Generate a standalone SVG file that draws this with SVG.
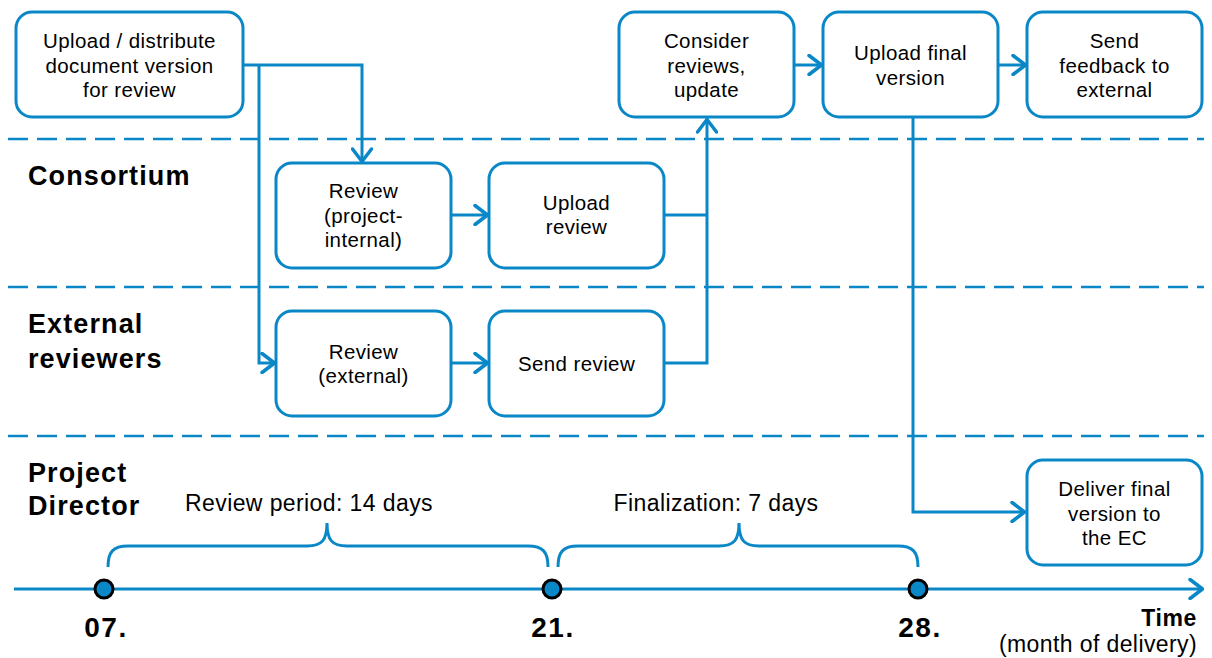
<svg xmlns="http://www.w3.org/2000/svg" width="1212" height="658" viewBox="0 0 1212 658">
  <defs>
    <marker id="arr" viewBox="0 0 16 22" refX="15" refY="11" markerWidth="16" markerHeight="22" markerUnits="userSpaceOnUse" orient="auto">
      <path d="M2,1.5 L14.5,11 L2,20.5" fill="none" stroke="#0a87c6" stroke-width="3.5" stroke-linecap="round" stroke-linejoin="round"/>
    </marker>
  </defs>
  <style>
    .box { fill: #ffffff; stroke: #0a87c6; stroke-width: 3; }
    .lane { stroke: #0a87c6; stroke-width: 2.5; stroke-dasharray: 20 9; fill: none; }
    .conn { fill: none; stroke: #0a87c6; stroke-width: 3; }
    .t { font-family: "Liberation Sans", Arial, sans-serif; font-size: 20.5px; letter-spacing: 0.4px; fill: #000; text-anchor: middle; }
    .lbl { font-family: "Liberation Sans", Arial, sans-serif; font-size: 27px; letter-spacing: 1.1px; font-weight: bold; fill: #000; }
    .per { font-family: "Liberation Sans", Arial, sans-serif; font-size: 23px; letter-spacing: 0.4px; fill: #000; text-anchor: middle; }
    .date { font-family: "Liberation Sans", Arial, sans-serif; font-size: 28px; letter-spacing: 1.5px; font-weight: bold; fill: #000; text-anchor: middle; }
    .dot { fill: #0a87c6; stroke: #000; stroke-width: 3; }
  </style>
  <rect width="1212" height="658" fill="#ffffff"/>

  <g id="lanes">
    <line class="lane" x1="8" y1="139" x2="1204" y2="139"/>
    <line class="lane" x1="8" y1="287" x2="1204" y2="287"/>
    <line class="lane" x1="8" y1="436" x2="1204" y2="436"/>
  </g>

  <g id="lane-labels">
    <text class="lbl" x="28" y="185">Consortium</text>
    <text class="lbl" x="28" y="333">External</text>
    <text class="lbl" x="28" y="368">reviewers</text>
    <text class="lbl" x="28" y="482">Project</text>
    <text class="lbl" x="28" y="515">Director</text>
  </g>

  <g id="connectors">
    <path class="conn" d="M243,65 H362 V162" marker-end="url(#arr)"/>
    <path class="conn" d="M259,65 V363 H275" marker-end="url(#arr)"/>
    <path class="conn" d="M451,215 H488" marker-end="url(#arr)"/>
    <path class="conn" d="M451,363 H488" marker-end="url(#arr)"/>
    <path class="conn" d="M665,215 H707"/>
    <path class="conn" d="M664,363 H707 V119" marker-end="url(#arr)"/>
    <path class="conn" d="M794,65 H822" marker-end="url(#arr)"/>
    <path class="conn" d="M998,65 H1026" marker-end="url(#arr)"/>
    <path class="conn" d="M913,117 V512 H1025" marker-end="url(#arr)"/>
  </g>

  <g id="n-upload-distribute">
    <rect class="box" x="16" y="12" width="227" height="105" rx="16"/>
    <text class="t" x="129.5" y="48">Upload / distribute</text>
    <text class="t" x="129.5" y="73">document version</text>
    <text class="t" x="129.5" y="97">for review</text>
  </g>
  <g id="n-consider">
    <rect class="box" x="619" y="12" width="175" height="105" rx="16"/>
    <text class="t" x="706.5" y="48">Consider</text>
    <text class="t" x="706.5" y="73">reviews,</text>
    <text class="t" x="706.5" y="97">update</text>
  </g>
  <g id="n-upload-final">
    <rect class="box" x="823" y="12" width="175" height="105" rx="16"/>
    <text class="t" x="910.5" y="60">Upload final</text>
    <text class="t" x="910.5" y="85">version</text>
  </g>
  <g id="n-send-feedback">
    <rect class="box" x="1027" y="12" width="175" height="105" rx="16"/>
    <text class="t" x="1114.5" y="48">Send</text>
    <text class="t" x="1114.5" y="73">feedback to</text>
    <text class="t" x="1114.5" y="97">external</text>
  </g>
  <g id="n-review-internal">
    <rect class="box" x="276" y="163" width="175" height="105" rx="16"/>
    <text class="t" x="363.5" y="198">Review</text>
    <text class="t" x="363.5" y="223">(project-</text>
    <text class="t" x="363.5" y="247">internal)</text>
  </g>
  <g id="n-upload-review">
    <rect class="box" x="489" y="163" width="175" height="105" rx="16"/>
    <text class="t" x="576.5" y="210">Upload</text>
    <text class="t" x="576.5" y="234">review</text>
  </g>
  <g id="n-review-external">
    <rect class="box" x="276" y="311" width="175" height="105" rx="16"/>
    <text class="t" x="363.5" y="359">Review</text>
    <text class="t" x="363.5" y="383">(external)</text>
  </g>
  <g id="n-send-review">
    <rect class="box" x="489" y="311" width="175" height="105" rx="16"/>
    <text class="t" x="576.5" y="371">Send review</text>
  </g>
  <g id="n-deliver">
    <rect class="box" x="1027" y="460" width="175" height="105" rx="16"/>
    <text class="t" x="1114.5" y="496">Deliver final</text>
    <text class="t" x="1114.5" y="521">version to</text>
    <text class="t" x="1114.5" y="545">the EC</text>
  </g>

  <g id="timeline">
    <path class="conn" d="M14,589 H1203" marker-end="url(#arr)"/>
    <path class="conn" d="M108,567 C108,552 113,546 128,546 H307 C322,546 327,540 327,523 C327,540 332,546 347,546 H528 C543,546 548,552 548,567"/>
    <path class="conn" d="M558,567 C558,552 563,546 578,546 H719 C734,546 739,540 739,523 C739,540 744,546 759,546 H898 C913,546 918,552 918,567"/>
    <circle class="dot" cx="104" cy="589" r="9"/>
    <circle class="dot" cx="552" cy="589" r="9"/>
    <circle class="dot" cx="918" cy="589" r="9"/>
    <text class="per" x="309" y="511">Review period: 14 days</text>
    <text class="per" x="716" y="511">Finalization: 7 days</text>
    <text class="date" x="106" y="637">07.</text>
    <text class="date" x="553" y="637">21.</text>
    <text class="date" x="920" y="637">28.</text>
    <text class="per" x="1197" y="626" style="text-anchor:end;font-weight:bold;letter-spacing:0.6px">Time</text>
    <text class="per" x="1197" y="652" style="text-anchor:end">(month of delivery)</text>
  </g>
</svg>
